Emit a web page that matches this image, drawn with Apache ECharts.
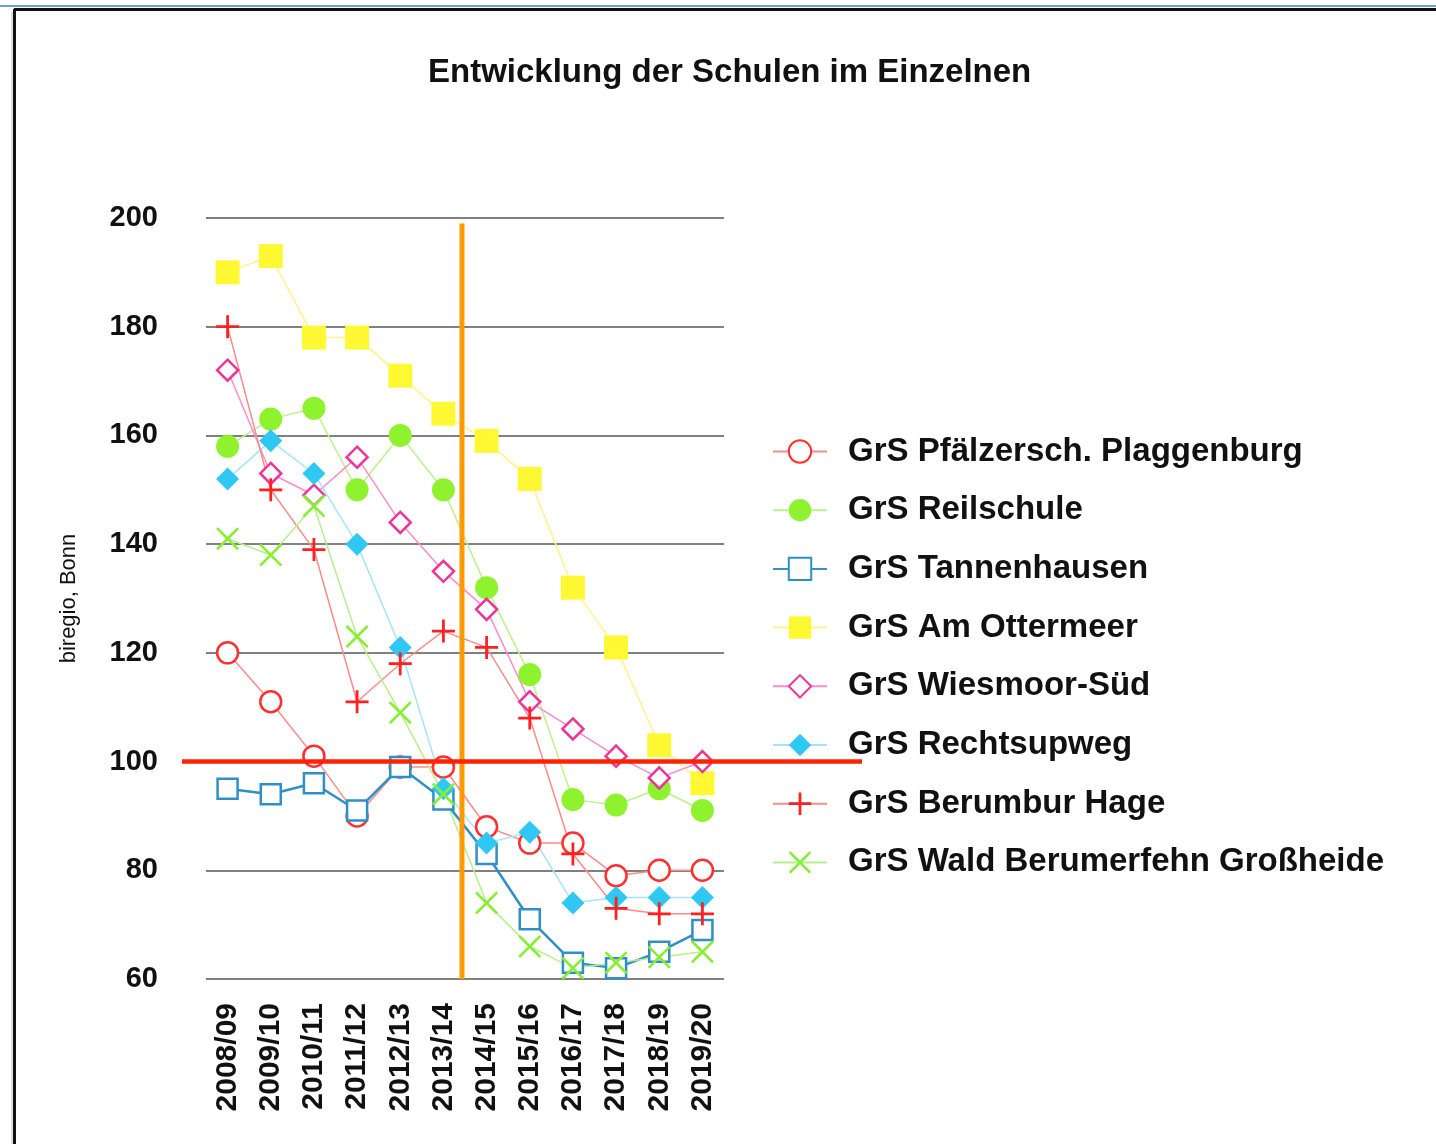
<!DOCTYPE html>
<html>
<head>
<meta charset="utf-8">
<script src="https://cdn.jsdelivr.net/npm/echarts@6/dist/echarts.min.js"></script>
<style>
  html, body { margin: 0; padding: 0; background: #fff; }
  #chart { width: 1436px; height: 1144px; }
</style>
</head>
<body>
<div id="chart"></div>
<script>
// Schuljahre
const years = ['2008/09', '2009/10', '2010/11', '2011/12', '2012/13', '2013/14', '2014/15', '2015/16', '2016/17', '2017/18', '2018/19', '2019/20'];

// Schülerzahlen je Schule
const plaggenburg = [120, 111, 101, 90, 99, 99, 88, 85, 85, 79, 80, 80];
const reilschule = [158, 163, 165, 150, 160, 150, 132, 116, 93, 92, 95, 91];
const tannenhausen = [95, 94, 96, 91, 99, 93, 83, 71, 63, 62, 65, 69];
const ottermeer = [190, 193, 178, 178, 171, 164, 159, 152, 132, 121, 103, 96];
const wiesmoor = [172, 153, 149, 156, 144, 135, 128, 111, 106, 101, 97, 100];
const rechtsupweg = [152, 159, 153, 140, 121, 95, 85, 87, 74, 75, 75, 75];
const berumbur = [180, 150, 139, 111, 118, 124, 121, 108, 83, 73, 72, 72];
const wald = [141, 138, 147, 123, 109, 94, 74, 66, 62, 63, 64, 65];

const yTicks = [60, 80, 100, 120, 140, 160, 180, 200];
const limitValue = 100;      // rote Linie
const cutYearIndex = 5.43;   // orange Linie zwischen 2013/14 und 2014/15

const plusPath = 'path://M8.8,0h2.4v8.8h8.8v2.4h-8.8v8.8h-2.4v-8.8h-8.8v-2.4h8.8z';
const crossPath = 'path://M1.6,0L10,8.4L18.4,0L20,1.6L11.6,10L20,18.4L18.4,20L10,11.6L1.6,20L0,18.4L8.4,10L0,1.6z';

function mkSeries(name, data, symbol, size, color, lineColor, filled, lw) {
    return {
        name: name,
        type: 'line',
        data: data,
        symbol: symbol,
        symbolSize: size,
        showAllSymbol: true,
        lineStyle: { color: lineColor, width: lw || 1.5 },
        itemStyle: filled ? { color: color, borderWidth: 0 } : { color: '#fff', borderColor: color, borderWidth: 2.5 },
        emphasis: { disabled: true },
        animation: false
    };
}

const chart = echarts.init(document.getElementById('chart'));
const font = '"Liberation Sans", Arial, sans-serif';

chart.setOption({
    backgroundColor: '#fff',
    textStyle: { fontFamily: font },
    title: {
        text: 'Entwicklung der Schulen im Einzelnen',
        left: 423,
        top: 51,
        textStyle: { fontSize: 33, fontWeight: 'bold', color: '#111', fontFamily: font }
    },
    grid: { left: 206, right: 712, top: 218, bottom: 165 },
    legend: {
        orient: 'vertical',
        left: 772,
        top: 435,
        padding: 0,
        itemWidth: 54,
        itemHeight: 28,
        itemGap: 25.7,
        textStyle: { fontSize: 33, fontWeight: 'bold', color: '#111', padding: [0, 0, 0, 16], fontFamily: font },
        data: ['GrS Pfälzersch. Plaggenburg', 'GrS Reilschule', 'GrS Tannenhausen', 'GrS Am Ottermeer',
               'GrS Wiesmoor-Süd', 'GrS Rechtsupweg', 'GrS Berumbur Hage', 'GrS Wald Berumerfehn Großheide']
    },
    xAxis: {
        type: 'category',
        data: years,
        boundaryGap: true,
        axisLine: { show: false },
        axisTick: { show: false },
        axisLabel: { rotate: 90, fontSize: 30, fontWeight: 'bold', color: '#111', margin: 24, interval: 0, fontFamily: font }
    },
    yAxis: {
        type: 'value',
        min: yTicks[0],
        max: yTicks[yTicks.length - 1],
        interval: 20,
        name: 'biregio, Bonn',
        nameLocation: 'middle',
        nameRotate: 90,
        nameGap: 126,
        nameTextStyle: { fontSize: 22, color: '#111', fontFamily: font },
        axisLine: { show: false },
        axisTick: { show: false },
        axisLabel: { fontSize: 29, fontWeight: 'bold', color: '#111', margin: 48, fontFamily: font },
        splitLine: { lineStyle: { color: '#808080', width: 2 } }
    },
    series: [
        mkSeries('GrS Pfälzersch. Plaggenburg', plaggenburg, 'circle', 21, '#ff3030', '#ff8a8a', false),
        mkSeries('GrS Reilschule', reilschule, 'circle', 23, '#8ff22e', '#bdf28a', true),
        mkSeries('GrS Tannenhausen', tannenhausen, 'rect', 20, '#2f8fc8', '#2f8fc8', false, 2.5),
        mkSeries('GrS Am Ottermeer', ottermeer, 'rect', 24, '#fff833', '#fff38a', true),
        mkSeries('GrS Wiesmoor-Süd', wiesmoor, 'diamond', 21, '#ee3399', '#ff8cc6', false),
        mkSeries('GrS Rechtsupweg', rechtsupweg, 'diamond', 23, '#2fc8f5', '#a6e4f8', true),
        mkSeries('GrS Berumbur Hage', berumbur, plusPath, 23, '#ff2020', '#ff8a8a', true),
        mkSeries('GrS Wald Berumerfehn Großheide', wald, crossPath, 23, '#88ee33', '#b6f08a', true)
    ]
});

// Hilfslinien und Rahmen aus den Achsen berechnet
function drawOverlays() {
    const x5 = chart.convertToPixel({ xAxisIndex: 0 }, years[5]);
    const x6 = chart.convertToPixel({ xAxisIndex: 0 }, years[6]);
    const xCut = x5 + (x6 - x5) * (cutYearIndex - 5);
    const yTop = chart.convertToPixel({ yAxisIndex: 0 }, 199);
    const yBot = chart.convertToPixel({ yAxisIndex: 0 }, 60);
    const yLim = chart.convertToPixel({ yAxisIndex: 0 }, limitValue);
    const gridLeft = 206, gridRight = 1436 - 712;
    chart.setOption({
        graphic: [
            { type: 'line', z: 100, shape: { x1: xCut, y1: yTop, x2: xCut, y2: yBot }, style: { stroke: '#ff9900', lineWidth: 5 } },
            { type: 'line', z: 101, shape: { x1: gridLeft - 24, y1: yLim, x2: gridRight + 138, y2: yLim }, style: { stroke: '#ff2200', lineWidth: 4.5 } },
            { type: 'line', z: 102, shape: { x1: 0, y1: 6, x2: 1436, y2: 6 }, style: { stroke: '#6f9fd8', lineWidth: 2 } },
            { type: 'line', z: 102, shape: { x1: 14, y1: 9.5, x2: 1436, y2: 9.5 }, style: { stroke: '#111', lineWidth: 3 } },
            { type: 'line', z: 102, shape: { x1: 14.5, y1: 9, x2: 14.5, y2: 1144 }, style: { stroke: '#111', lineWidth: 3 } },
            { type: 'line', z: 102, shape: { x1: 12, y1: 12, x2: 12, y2: 1144 }, style: { stroke: '#bbb', lineWidth: 1 } }
        ]
    });
}
drawOverlays();
</script>
</body>
</html>
